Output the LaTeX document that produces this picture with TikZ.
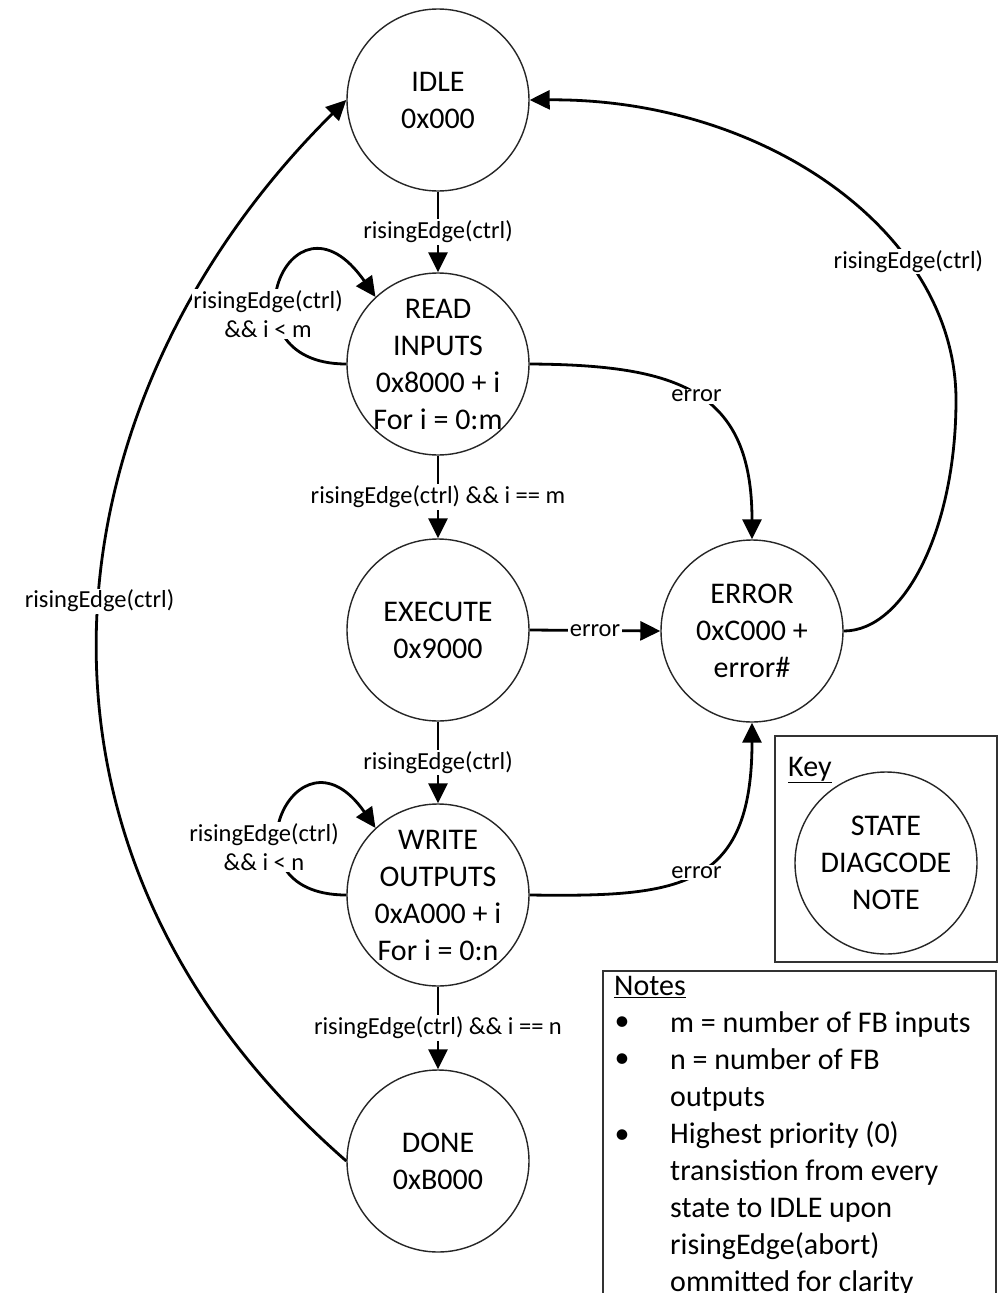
\documentclass[tikz,border=0pt]{standalone}
\usepackage{fontspec}
\setmainfont{Carlito}
\usetikzlibrary{arrows.meta}
\begin{document}
\begin{tikzpicture}[x=1pt,y=-1pt,
  state/.style={circle, draw=black!85, line width=1.4pt, minimum size=182pt, inner sep=0pt},
  stxt/.style={align=center, font=\fontsize{30}{37}\selectfont, inner sep=0pt},
  lbl/.style={fill=white, font=\fontsize{24.5}{29}\selectfont, inner sep=1.5pt, align=center},
  conn/.style={line width=2.8pt, -{Triangle[length=20pt,width=19pt]}},
  plain/.style={line width=2.8pt},
  box/.style={draw=black!80, line width=1.5pt}
]
\useasboundingbox (0,0) rectangle (1008,1293);
\clip (0,0) rectangle (1008,1293);
\fill[white] (0,0) rectangle (1008,1293);

% states
\node[state] (idle)  at (438,100)  {};
\node[stxt]  (idlet) at (idle) {IDLE\\0x000};
\node[state] (read)  at (438,364)  {};
\node[stxt]  (readt) at (read) {READ\\INPUTS\\0x8000 + i\\For i = 0:m};
\node[state] (exec)  at (438,630)  {};
\node[stxt]  (exect) at (exec) {EXECUTE\\0x9000};
\node[state] (write) at (438,895)  {};
\node[stxt]  (writet) at (write) {WRITE\\OUTPUTS\\0xA000 + i\\For i = 0:n};
\node[state] (done)  at (438,1161) {};
\node[stxt]  (donet) at (done) {DONE\\0xB000};
\node[state] (err)   at (752,631)  {};
\node[stxt]  (errt)  at (err) {ERROR\\0xC000 +\\error\#};

% straight transitions
\draw[conn] (idle.south) -- node[lbl] (l1) {risingEdge(ctrl)} (read.north);
\draw[conn] (read.south) -- node[lbl] (l2) {risingEdge(ctrl) \&\& i == m} (exec.north);
\draw[conn] (exec.south) -- node[lbl] (l3) {risingEdge(ctrl)} (write.north);
\draw[conn] (write.south) -- node[lbl] (l4) {risingEdge(ctrl) \&\& i == n} (done.north);
\draw[conn] (exec.east) -- node[lbl] (l5) {error} (err.west);

% curved error transitions
\draw[conn] (read.east) .. controls (678,365) and (752,390) .. (err.north)
  node[lbl, pos=0.5] (l6) {error};
\draw[conn] (write.east) .. controls (678,897) and (752,890) .. (err.south)
  node[lbl, pos=0.5] (l7) {error};

% error back to idle
\coordinate (rtop) at (956,400);
\draw[plain] (err.east) .. controls (905,631) and (956,528) .. (rtop);
\draw[conn] (rtop) .. controls (956,233) and (765,98) .. (idle.east)
  node[lbl, pos=0.3] (l8) {risingEdge(ctrl)};

% done back to idle
\draw[conn] (done.west) .. controls (-15,846) and (46,397) .. (idle.west)
  node[lbl, pos=0.52] (l9) {risingEdge(ctrl)};

% self loops
\draw[conn] (read.west) .. controls +(-130,0) and +(-86,-123) .. (read.133);
\node[lbl] (l10) at (268,314) {risingEdge(ctrl)\\\&\& i < m};
\draw[conn] (write.west) .. controls +(-130,0) and +(-80,-115) .. (write.133);
\node[lbl] (l11) at (264,847) {risingEdge(ctrl)\\\&\& i < n};

% key
\draw[box] (775,736) rectangle (997,962);
\node[stxt, anchor=west] (keyt) at (788,770) {\underline{Key}};
\node[state] (keyc) at (886,863) {};
\node[stxt] (keyct) at (keyc) {STATE\\DIAGCODE\\NOTE};

% notes
\draw[box] (603,971) rectangle (996,1320);
\node[stxt, anchor=west] (notest) at (614,987) {\underline{Notes}};
\node[stxt] (b1) at (622,1024) {•};
\node[stxt] (b2) at (622,1061) {•};
\node[stxt] (b3) at (622,1137) {•};
\node[stxt, align=left, anchor=north west] (notesb) at (670,1011)
  {m = number of FB inputs\\n = number of FB\\outputs\\Highest priority (0)\\transistion from every\\state to IDLE upon\\risingEdge(abort)\\ommitted for clarity};
\end{tikzpicture}
\end{document}
